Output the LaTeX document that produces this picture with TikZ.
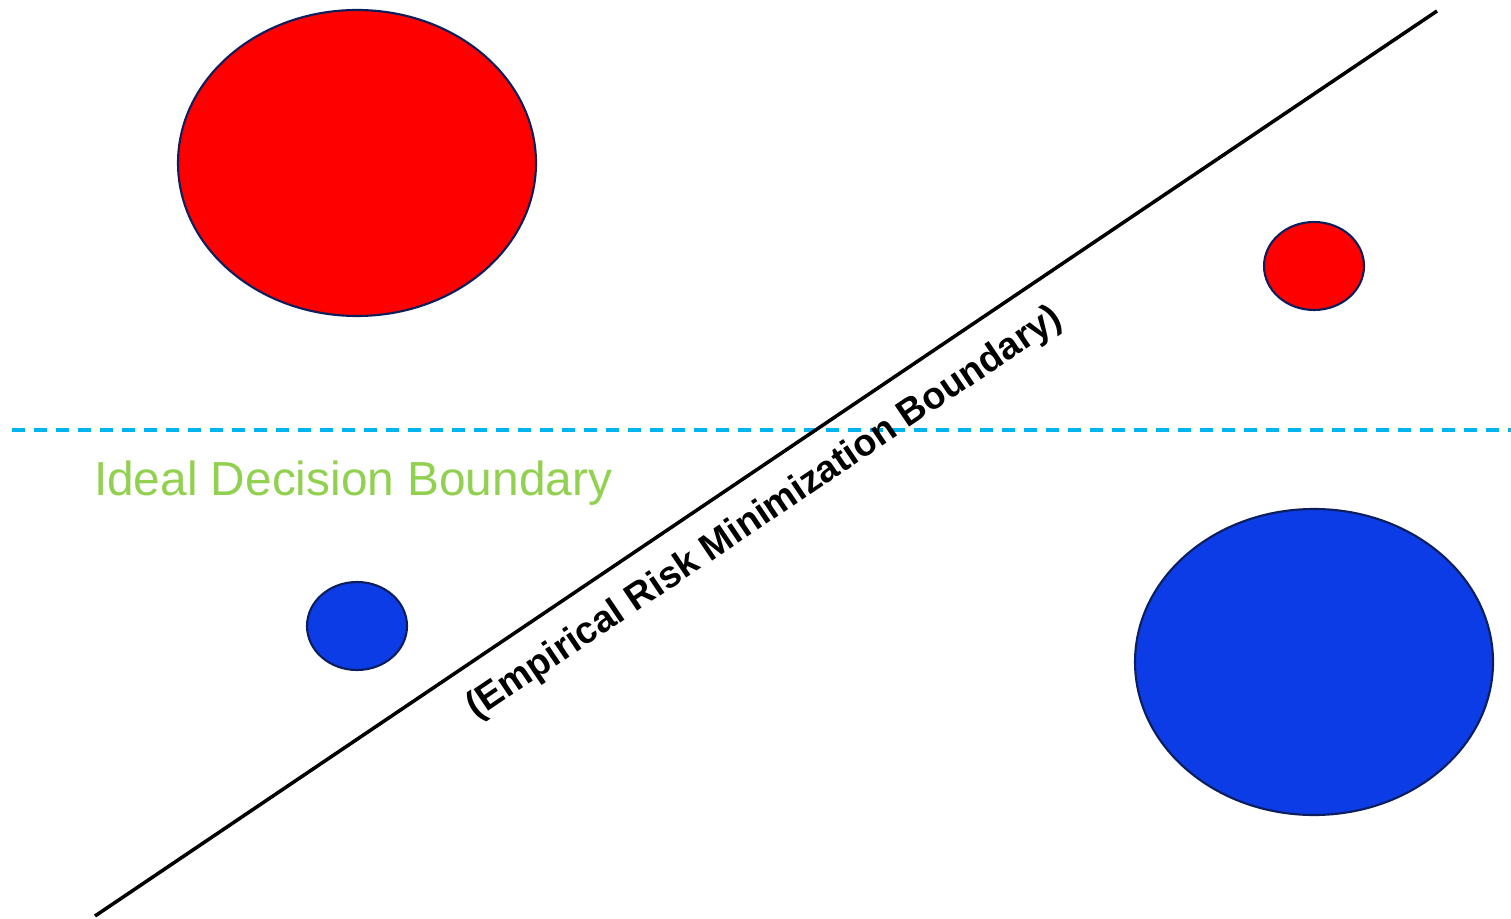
\documentclass[tikz,border=0pt]{standalone}
\usepackage{fontspec}
\setmainfont{Liberation Sans}
\usetikzlibrary{shapes.geometric}
\definecolor{ptred}{HTML}{FF0000}
\definecolor{ptblue}{HTML}{0B3CE6}
\definecolor{ptedge}{HTML}{0C1F5C}
\definecolor{idealcyan}{HTML}{00B4F0}
\definecolor{idealgreen}{HTML}{92D050}

\begin{document}
\begin{tikzpicture}[
    semithick,
    cluster/.style={draw=ptedge, line width=0.6pt, ellipse, inner sep=0pt},
    big/.style={cluster, minimum width=3.58cm, minimum height=3.06cm},
    small/.style={cluster, minimum width=1.0cm, minimum height=0.88cm}
]
\useasboundingbox (0,0) rectangle (15.11,9.18);

% Clusters
\node[big, fill=ptred]     (RedBig)    at (3.57,7.55)  {};
\node[small, fill=ptred]   (RedSmall)  at (13.14,6.52) {};
\node[small, fill=ptblue]  (BlueSmall) at (3.57,2.92)  {};
\node[big, fill=ptblue]    (BlueBig)   at (13.14,2.56) {};

% Boundaries
\coordinate (IdealL) at (0.12,4.88);
\coordinate (IdealR) at (15.11,4.88);
\coordinate (ErmL)   at (0.95,0.02);
\coordinate (ErmR)   at (14.37,9.07);

\draw[idealcyan, line width=0.95pt, dash pattern=on 0.13cm off 0.09cm] (IdealL) -- (IdealR);
\node[anchor=base west, inner sep=0pt, text=idealgreen, font=\fontsize{13.6}{16}\selectfont]
    (IdealLabel) at (0.93,4.22) {Ideal Decision Boundary};

\draw[black, line width=1pt] (ErmL) -- (ErmR)
    node[pos=0.482, sloped, below=0.1cm, font=\fontsize{10.7}{12}\selectfont\bfseries] (ErmLabel)
    {(Empirical Risk Minimization Boundary)};

\end{tikzpicture}
\end{document}
